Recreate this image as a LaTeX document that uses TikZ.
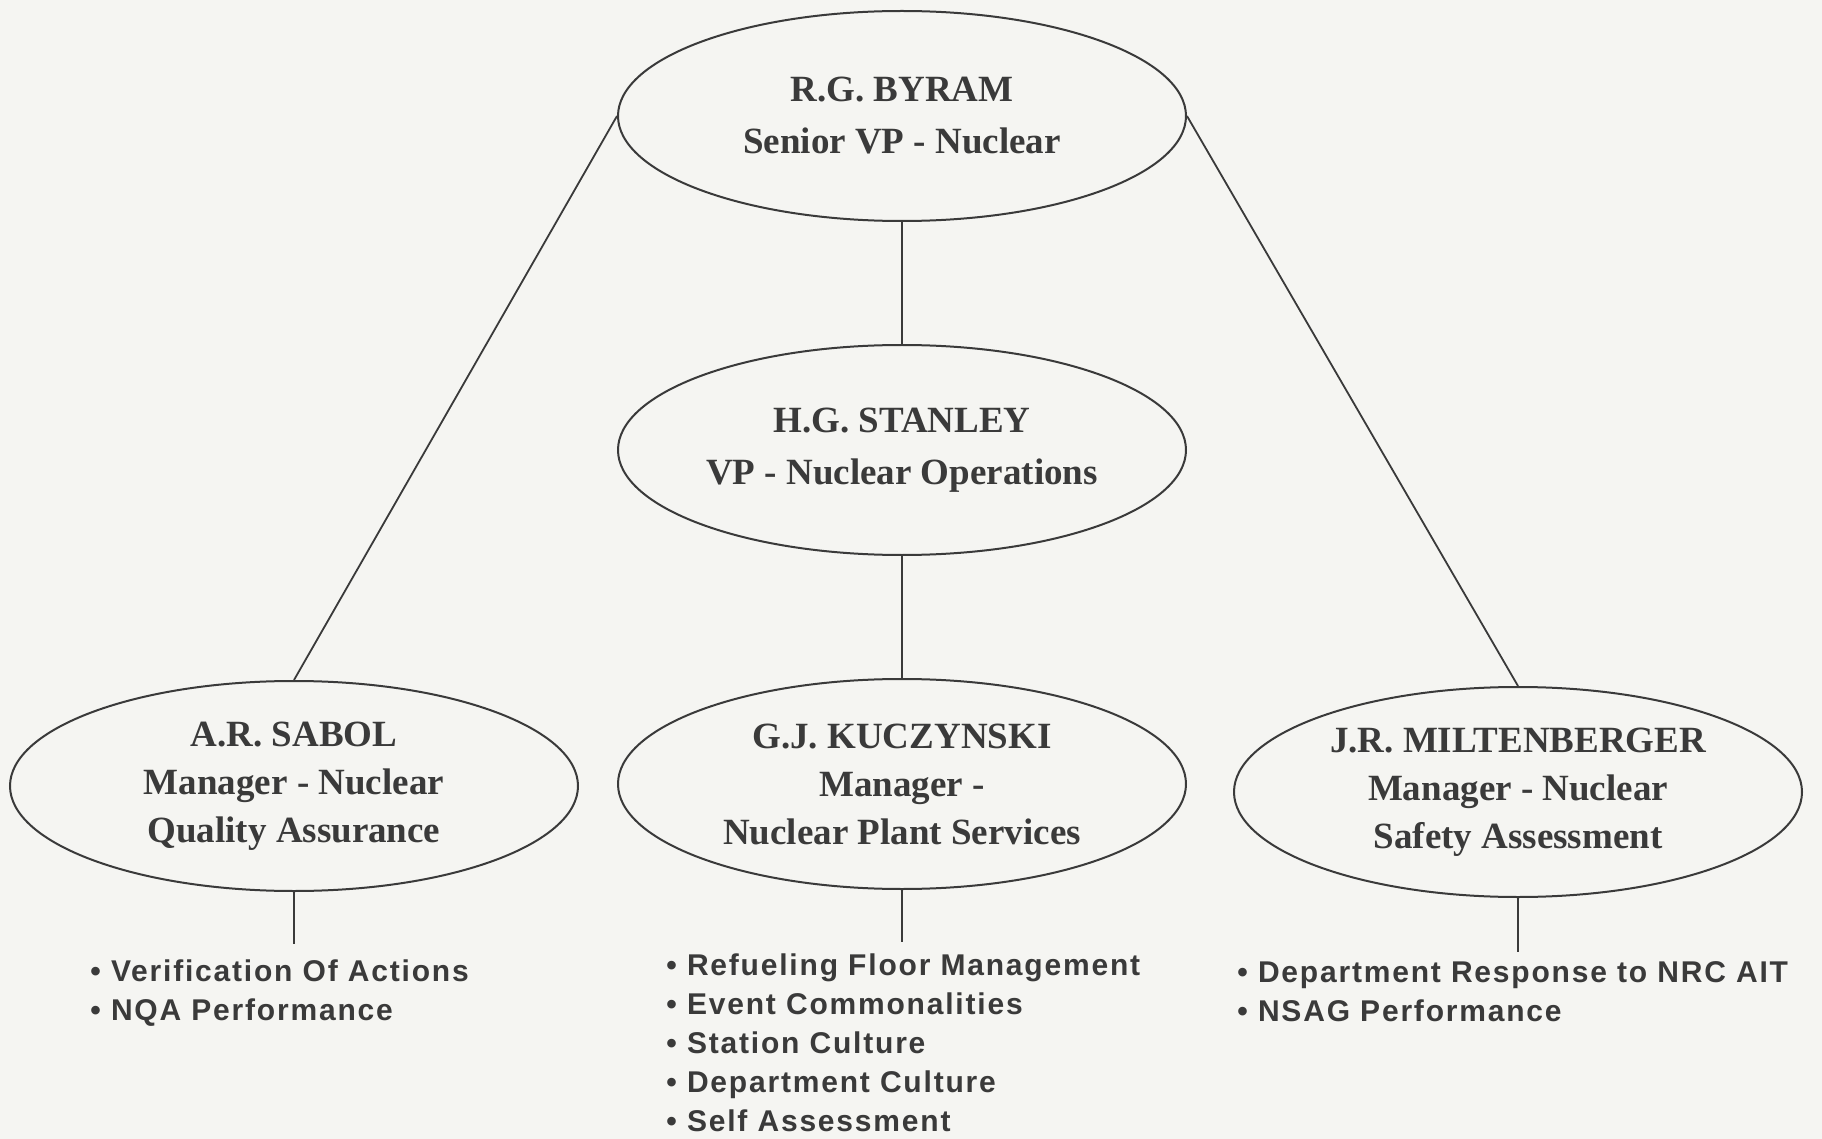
\documentclass[tikz,border=0pt]{standalone}
\usepackage{fontspec}
\setmainfont{Liberation Serif}
\setsansfont{Liberation Sans}
\usetikzlibrary{shapes.geometric,positioning}
\definecolor{ink}{HTML}{3A3A3A}
\definecolor{paper}{HTML}{F5F5F2}

\begin{document}
\begin{tikzpicture}[
    x=0.5pt, y=-0.5pt,
    person/.style={ellipse, draw=ink, line width=1pt, minimum width=284pt, minimum height=105pt, inner sep=0pt, text=ink, align=center, font=\bfseries\fontsize{18.5}{26}\selectfont},
    manager/.style={person, font=\bfseries\fontsize{18.5}{24}\selectfont},
    items/.style={anchor=north west, inner sep=0pt, text=ink, align=left, font=\sffamily\bfseries\fontsize{15}{19.6}\selectfont\addfontfeatures{LetterSpace=6}},
    link/.style={draw=ink, line width=0.9pt}
]
\fill[paper] (0,0) rectangle (1822,1139);
\useasboundingbox (0,0) rectangle (1822,1139);

% Top
\node[person] (byram) at (902,116) {R.G. BYRAM\\Senior VP - Nuclear};
\node[person, below=61pt of byram] (stanley) {H.G. STANLEY\\VP - Nuclear Operations};

% Managers
\node[manager, below=61pt of stanley] (kuczynski) {G.J. KUCZYNSKI\\Manager -\\Nuclear Plant Services};
\node[manager, left=19pt of kuczynski, yshift=-1pt] (sabol) {A.R. SABOL\\Manager - Nuclear\\Quality Assurance};
\node[manager, right=23pt of kuczynski, yshift=-4pt] (miltenberger) {J.R. MILTENBERGER\\Manager - Nuclear\\Safety Assessment};

% Ends of the list stems
\coordinate[below=26pt of sabol.south] (sabolend);
\coordinate[below=26pt of kuczynski.south] (kuczynskiend);
\coordinate[below=27pt of miltenberger.south] (miltenbergerend);

% Lists
\node[items] (sabolitems) at (90,959) {\textbullet\ Verification Of Actions\\\textbullet\ NQA Performance};
\node[items] (kuczynskiitems) at (666,953) {\textbullet\ Refueling Floor Management\\\textbullet\ Event Commonalities\\\textbullet\ Station Culture\\\textbullet\ Department Culture\\\textbullet\ Self Assessment};
\node[items] (miltenbergeritems) at (1237,961) {\textbullet\ Department Response to NRC AIT\\\textbullet\ NSAG Performance};

% Lines
\draw[link] (byram) -- (stanley);
\draw[link] (stanley) -- (kuczynski);
\draw[link] (byram.west) -- (sabol.north);
\draw[link] (byram.east) -- (miltenberger.north);
\draw[link] (sabol.south) -- (sabolend);
\draw[link] (kuczynski.south) -- (kuczynskiend);
\draw[link] (miltenberger.south) -- (miltenbergerend);
\end{tikzpicture}
\end{document}
